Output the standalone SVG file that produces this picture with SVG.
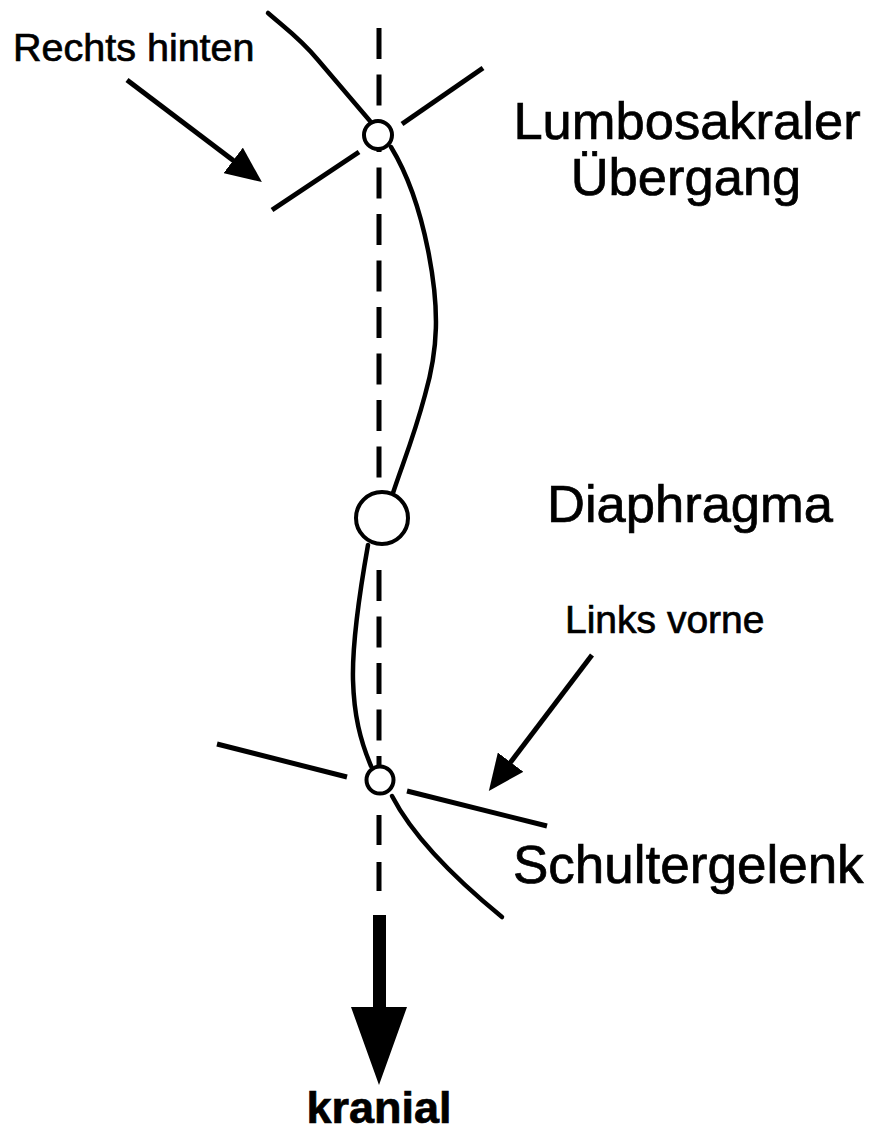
<svg xmlns="http://www.w3.org/2000/svg" width="874" height="1133" viewBox="0 0 874 1133">
<defs>
<style>
.ln{fill:none;stroke:#000;stroke-width:5;stroke-linecap:butt}
.cv{fill:none;stroke:#000;stroke-width:4.5;stroke-linecap:round}
.ds{fill:none;stroke:#000;stroke-width:5}
.jt{fill:#fff;stroke:#000;stroke-width:4}
.lbl{font-family:"Liberation Sans",Arial,sans-serif;fill:#000;stroke:#000;stroke-width:0.7}
</style>
<marker id="ah" viewBox="0 -16 36 32" refX="1" refY="0" markerWidth="36" markerHeight="32" markerUnits="userSpaceOnUse" orient="auto">
<path d="M0,-16 L36,0 L0,16 Z" fill="#000"/>
</marker>
</defs>
<rect width="874" height="1133" fill="#fff"/>
<g id="connectors">
<line class="ds" x1="379" y1="28" x2="379" y2="478" stroke-dasharray="31 15.5"/>
<line class="ds" x1="379" y1="570" x2="379" y2="787" stroke-dasharray="31 15.5"/>
<line class="ds" x1="379" y1="815" x2="379" y2="891" stroke-dasharray="30 17"/>
<path class="cv" d="M268,13 C285,28 300,38 318,60 C335,80 352,100 370,121"/>
<path class="cv" d="M391,147 C405,170 418,200 428,250 C440,310 438,350 425,395 C413,440 402,465 393,493"/>
<path class="cv" d="M368,545 C360,590 352,640 353,680 C354,715 360,740 371,766"/>
<path class="cv" d="M392,796 Q420,850 502,917"/>
<line class="ln" x1="402" y1="124" x2="483" y2="68"/>
<line class="ln" x1="359" y1="152" x2="272" y2="210"/>
<line class="ln" x1="217" y1="744" x2="347" y2="777"/>
<line class="ln" x1="407" y1="791" x2="547" y2="826"/>
<line class="ln" x1="127" y1="80" x2="234" y2="161" marker-end="url(#ah)"/>
<line class="ln" x1="592" y1="655" x2="510" y2="763" marker-end="url(#ah)"/>
<path d="M373,915 H386 V1007 H407 L379,1085 L351,1007 H373 Z" fill="#000"/>
</g>
<g id="lumbosakral">
<circle class="jt" cx="378" cy="135" r="14"/>
<text class="lbl" x="687" y="139" font-size="52.5" text-anchor="middle">Lumbosakraler</text>
<text class="lbl" x="686" y="195" font-size="52.5" text-anchor="middle">Übergang</text>
</g>
<g id="diaphragma">
<circle class="jt" cx="382" cy="518" r="26"/>
<text class="lbl" x="547" y="522" font-size="52.5">Diaphragma</text>
</g>
<g id="schultergelenk">
<circle class="jt" cx="380" cy="780" r="13.5"/>
<text class="lbl" x="513" y="883" font-size="53">Schultergelenk</text>
</g>
<g id="rechts-hinten">
<text class="lbl" x="13" y="61" font-size="39.5">Rechts hinten</text>
</g>
<g id="links-vorne">
<text class="lbl" x="565" y="633" font-size="39">Links vorne</text>
</g>
<g id="kranial">
<text class="lbl" x="379" y="1123" font-size="45" font-weight="bold" text-anchor="middle">kranial</text>
</g>
</svg>
